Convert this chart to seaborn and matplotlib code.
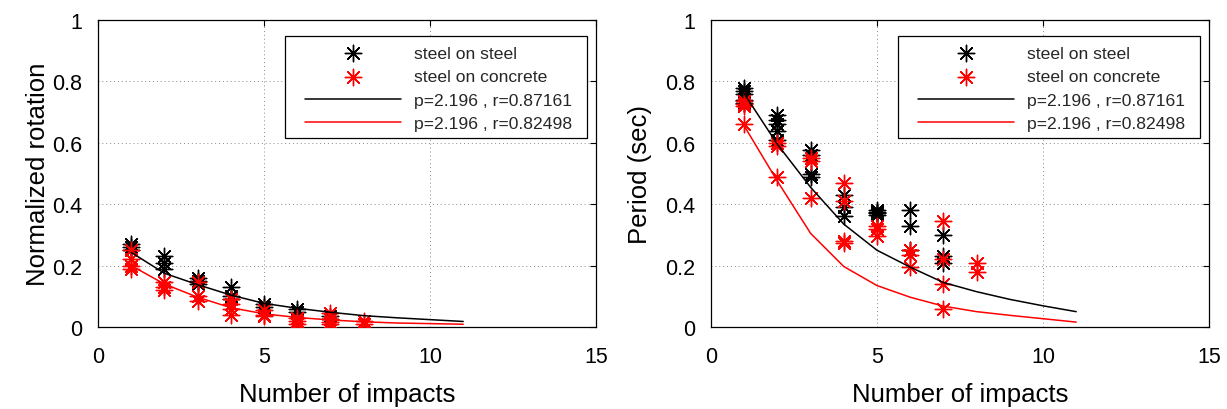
import numpy as np
import pandas as pd
import matplotlib
matplotlib.use("Agg")
import matplotlib.pyplot as plt
import seaborn as sns
from matplotlib.ticker import FuncFormatter
from matplotlib.patches import Rectangle

# ---------------- data ----------------
# Left panel: normalized rotation
rot_steel_n = [1, 1, 1, 2, 2, 2, 3, 3, 3, 4, 4, 4, 5, 5, 6, 6, 7, 7]
rot_steel_y = [0.27, 0.26, 0.25, 0.23, 0.21, 0.19, 0.16, 0.15, 0.14,
               0.13, 0.10, 0.09, 0.075, 0.065, 0.06, 0.05, 0.035, 0.025]
rot_conc_n = [1, 1, 1, 1, 2, 2, 2, 3, 3, 3, 4, 4, 4, 4, 5, 5, 5, 6, 6, 6, 7, 7, 7, 7, 8, 8]
rot_conc_y = [0.25, 0.22, 0.20, 0.19, 0.145, 0.13, 0.12, 0.145, 0.10, 0.085,
              0.09, 0.075, 0.06, 0.04, 0.055, 0.04, 0.035, 0.03, 0.02, 0.01,
              0.045, 0.025, 0.015, 0.01, 0.02, 0.01]
fit_n = [1, 2, 3, 4, 5, 6, 7, 8, 9, 10, 11]
rot_fit_steel = [0.243, 0.175, 0.138, 0.104, 0.077, 0.061, 0.048, 0.037, 0.030, 0.024, 0.018]
rot_fit_conc = [0.200, 0.140, 0.097, 0.063, 0.043, 0.031, 0.023, 0.017, 0.013, 0.011, 0.009]

# Right panel: period (sec)
per_steel_n = [1, 1, 1, 1, 1, 2, 2, 2, 2, 2, 3, 3, 3, 3, 4, 4, 4, 5, 5, 5, 5, 6, 6, 6, 7, 7, 7]
per_steel_y = [0.78, 0.77, 0.76, 0.74, 0.73, 0.69, 0.675, 0.66, 0.64, 0.61,
               0.575, 0.56, 0.50, 0.49, 0.43, 0.39, 0.36, 0.38, 0.375, 0.37, 0.365,
               0.38, 0.33, 0.25, 0.30, 0.23, 0.21]
per_conc_n = [1, 1, 1, 1, 2, 2, 2, 3, 3, 3, 4, 4, 4, 4, 5, 5, 5, 6, 6, 6, 7, 7, 7, 7, 8, 8]
per_conc_y = [0.735, 0.725, 0.72, 0.66, 0.60, 0.59, 0.49, 0.55, 0.54, 0.42,
              0.47, 0.41, 0.28, 0.275, 0.33, 0.32, 0.295, 0.25, 0.235, 0.195,
              0.345, 0.22, 0.14, 0.06, 0.21, 0.18]
per_fit_steel = [0.760, 0.595, 0.455, 0.335, 0.250, 0.195, 0.145, 0.115, 0.090, 0.069, 0.050]
per_fit_conc = [0.655, 0.475, 0.305, 0.197, 0.135, 0.097, 0.068, 0.050, 0.038, 0.027, 0.016]

labels = ["steel on steel", "steel on concrete",
          "p=2.196 , r=0.87161", "p=2.196 , r=0.82498"]
x_label = "Number of impacts"
y_labels = ["Normalized rotation", "Period (sec)"]
x_ticks = [0, 5, 10, 15]
y_ticks = [0, 0.2, 0.4, 0.6, 0.8, 1.0]

# ---------------- style ----------------
sns.set_theme(style="white")
plt.rcParams["font.family"] = ["Liberation Sans", "DejaVu Sans"]
plt.rcParams["axes.edgecolor"] = "black"
plt.rcParams["axes.linewidth"] = 0.9

fig = plt.figure(figsize=(12.27, 4.10), dpi=100)
ax1 = fig.add_axes([98 / 1227, 82 / 410, 498 / 1227, 307 / 410])
ax2 = fig.add_axes([711 / 1227, 82 / 410, 498 / 1227, 307 / 410])

star = (8, 2, 0)

panels = [
    (ax1, rot_steel_n, rot_steel_y, rot_conc_n, rot_conc_y, rot_fit_steel, rot_fit_conc, y_labels[0], 1.5),
    (ax2, per_steel_n, per_steel_y, per_conc_n, per_conc_y, per_fit_steel, per_fit_conc, y_labels[1], 9.5),
]

for ax, sn, sy, cn, cy, fs, fc, ylab, lpad in panels:
    df_s = pd.DataFrame({"n": sn, "y": sy})
    df_c = pd.DataFrame({"n": cn, "y": cy})
    df_f = pd.DataFrame({"n": fit_n, "s": fs, "c": fc})
    sns.scatterplot(data=df_s, x="n", y="y", marker=star, color="black",
                    s=140, linewidth=1.0, ax=ax, label=labels[0], zorder=3)
    sns.scatterplot(data=df_c, x="n", y="y", marker=star, color="red",
                    s=140, linewidth=1.0, ax=ax, label=labels[1], zorder=3)
    sns.lineplot(data=df_f, x="n", y="s", color="black", linewidth=1.1,
                 ax=ax, label=labels[2], zorder=4)
    sns.lineplot(data=df_f, x="n", y="c", color="red", linewidth=1.1,
                 ax=ax, label=labels[3], zorder=4)

    ax.set_xlim(0, 15)
    ax.set_ylim(0, 1)
    ax.set_xticks(x_ticks)
    ax.set_yticks(y_ticks)
    ax.xaxis.set_major_formatter(FuncFormatter(lambda v, p: f"{v:g}"))
    ax.yaxis.set_major_formatter(FuncFormatter(lambda v, p: f"{v:g}"))
    ax.grid(True, color="#8a8a8a", linestyle=(0, (1, 3)), linewidth=0.7)
    ax.tick_params(direction="in", top=True, right=True, length=4, width=0.8,
                   labelsize=15.5, colors="black")
    ax.tick_params(axis="x", pad=13.5)
    ax.tick_params(axis="y", pad=11.5)
    ax.set_xlabel(x_label, fontsize=18.5, labelpad=11, color="black")
    ax.set_ylabel(ylab, fontsize=18.5, labelpad=lpad, color="black")
    for sp in ax.spines.values():
        sp.set_visible(True)
        sp.set_color("black")

    # legend frame
    frame = Rectangle((0.3755, 0.615), 0.6065, 0.333, transform=ax.transAxes,
                      facecolor="white", edgecolor="black", linewidth=0.9,
                      zorder=4.5)
    ax.add_patch(frame)
    leg = ax.legend(loc="upper left", bbox_to_anchor=(0.4157, 0.916),
                    borderaxespad=0, borderpad=0, fontsize=12.6, frameon=False,
                    handlelength=5.5, handletextpad=0.72, labelspacing=0.46,
                    scatterpoints=1)
    leg.set_zorder(5)

fig.savefig("out.png", dpi=100)
